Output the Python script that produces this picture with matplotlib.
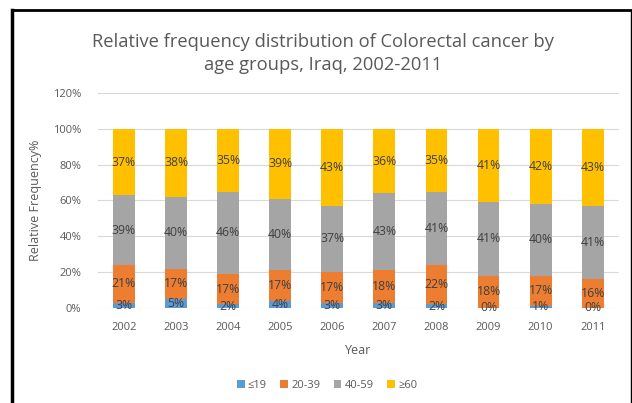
import matplotlib
matplotlib.use("Agg")
import matplotlib.pyplot as plt
from matplotlib.lines import Line2D
import numpy as np

# percentage share of each age group per year
years = ["2002", "2003", "2004", "2005", "2006", "2007", "2008", "2009", "2010", "2011"]
age_groups = ["≤19", "20-39", "40-59", "≥60"]
le19 = [3, 5, 2, 4, 3, 3, 2, 0, 1, 0]
a20_39 = [21, 17, 17, 17, 17, 18, 22, 18, 17, 16]
a40_59 = [39, 40, 46, 40, 37, 43, 41, 41, 40, 41]
ge60 = [37, 38, 35, 39, 43, 36, 35, 41, 42, 43]
series = [le19, a20_39, a40_59, ge60]
colors = ["#5B9BD5", "#ED7D31", "#A5A5A5", "#FFC000"]

plt.rcParams['font.family'] = ['Open Sans', 'DejaVu Sans']

fig = plt.figure(figsize=(6.32, 4.03), dpi=100)
ax = fig.add_axes([0.155, 0.236, 0.824, 0.533])

x = np.arange(len(years))
bottom = np.zeros(len(years))
for name, vals, col in zip(age_groups, series, colors):
    vals = np.array(vals, dtype=float)
    ax.bar(x, vals, 0.42, bottom=bottom, color=col, label=name, zorder=2)
    for xi, b, v in zip(x, bottom, vals):
        ax.text(xi, b + v / 2, f"{int(v)}%", ha="center", va="center",
                fontsize=8.8, color="#404040", zorder=3)
    bottom += vals

ax.set_ylim(0, 120)
ax.set_xlim(-0.5, len(years) - 0.5)
ax.set_yticks(np.arange(0, 121, 20))
ax.set_yticklabels([f"{v}%" for v in range(0, 121, 20)])
ax.set_xticks(x)
ax.set_xticklabels(years)
ax.tick_params(length=0, labelsize=8, colors="#595959")
ax.tick_params(axis="y", pad=12)
ax.tick_params(axis="x", pad=10)
ax.grid(axis="y", color="#D9D9D9", linewidth=0.8, zorder=0)
for s in ax.spines.values():
    s.set_visible(False)

ax.set_xlabel("Year", fontsize=9, color="#595959", labelpad=8)
ax.set_ylabel("Relative Frequency%", fontsize=9, color="#595959", labelpad=8)

fig.text(0.511, 0.868, "Relative frequency distribution of Colorectal cancer by\nage groups, Iraq, 2002-2011",
         ha="center", va="center", fontsize=13.2, color="#595959", linespacing=1.35)

ax.legend(loc="upper center", bbox_to_anchor=(0.44, -0.29), ncol=4, frameon=False,
          fontsize=8, labelcolor="#595959", handlelength=0.7, handleheight=0.7,
          handletextpad=0.3, columnspacing=1.2)

# black frame around the chart area
fig.add_artist(Line2D([11.5 / 632, 11.5 / 632], [0, 1 - 10 / 403], transform=fig.transFigure, color="black", lw=2.5))
fig.add_artist(Line2D([11.5 / 632, 630.5 / 632], [1 - 10 / 403, 1 - 10 / 403], transform=fig.transFigure, color="black", lw=2))
fig.add_artist(Line2D([630.5 / 632, 630.5 / 632], [0, 1 - 10 / 403], transform=fig.transFigure, color="black", lw=1))

fig.savefig("out.png", dpi=100)
